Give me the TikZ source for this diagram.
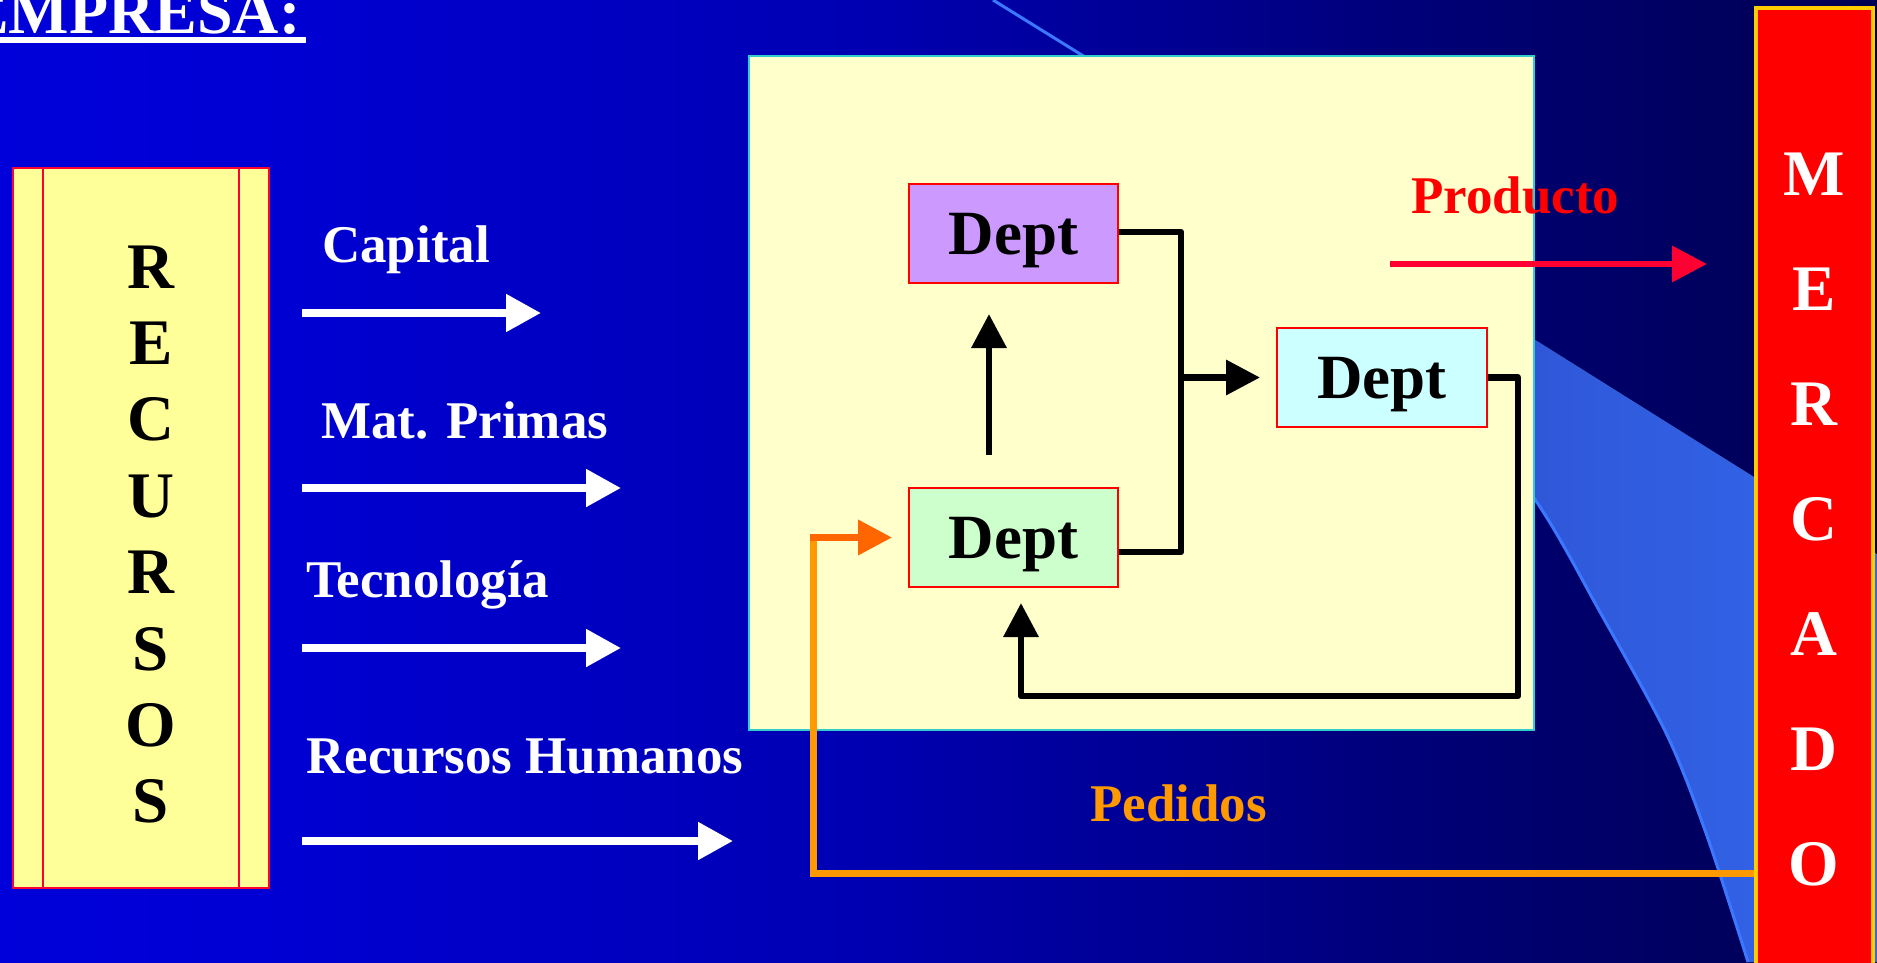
\documentclass[tikz,border=0pt]{standalone}
\usepackage{fontspec}
\setmainfont{Liberation Serif}
\usetikzlibrary{arrows.meta}
\definecolor{bga}{RGB}{0,0,238}
\definecolor{bgb}{RGB}{0,0,212}
\definecolor{bgc}{RGB}{0,0,178}
\definecolor{bgd}{RGB}{0,0,115}
\definecolor{bge}{RGB}{0,0,66}
\definecolor{bgf}{RGB}{0,0,40}
\definecolor{swa}{RGB}{38,66,185}
\definecolor{swb}{RGB}{52,102,236}
\definecolor{swline}{RGB}{60,120,255}
\definecolor{empfill}{RGB}{255,255,204}
\definecolor{empline}{RGB}{51,204,204}
\definecolor{recfill}{RGB}{255,255,153}
\definecolor{recline}{RGB}{255,0,51}
\definecolor{dpurple}{RGB}{204,153,255}
\definecolor{dcyan}{RGB}{204,255,255}
\definecolor{dgreen}{RGB}{204,255,204}
\definecolor{mred}{RGB}{255,0,0}
\definecolor{mgold}{RGB}{255,204,0}
\definecolor{prodred}{RGB}{255,0,51}
\definecolor{pedorange}{RGB}{255,153,0}
\definecolor{arrorange}{RGB}{255,102,0}
\pgfdeclarehorizontalshading{bgshade}{100bp}{color(0bp)=(bga); color(32bp)=(bgb); color(48bp)=(bgc); color(64bp)=(bgd); color(80bp)=(bge); color(100bp)=(bgf)}
\begin{document}
\begin{tikzpicture}[x=1pt,y=-1pt,
  lab/.style={text=white, font=\fontsize{53}{60}\selectfont\bfseries, inner sep=0pt, anchor=base west},
  deptbox/.style={draw=red, line width=2pt, minimum width=209pt, minimum height=99pt, inner sep=0pt,
     font=\fontsize{63}{63}\selectfont\bfseries, text height=42pt, text depth=0pt},
  conn/.style={black, line width=6.5pt, line join=round},
  blktip/.style={-{Triangle[length=34pt,width=34pt]}},
  warr/.style={white, line width=8pt, -{Triangle[length=35pt,width=36pt]}},
]
\useasboundingbox (0,0) rectangle (1877,962);
\clip (0,0) rectangle (1877,962);
\fill[shading=bgshade] (0,0) rectangle (1877,962);

% swoosh
\fill[left color=swa, right color=swb] (993,0) -- (1877,554) -- (1877,962) -- (1748,962)
  -- plot[smooth] coordinates {(1748,962) (1707,836) (1667,735) (1600,612) (1534,498) (1420,350) (1260,190) (1106,70)} -- cycle;
\draw[swline, line width=3pt] plot[smooth] coordinates {(1748,962) (1707,836) (1667,735) (1600,612) (1534,498) (1420,350) (1260,190) (1106,70)} -- (993,0);

% title
\node[text=white, font=\fontsize{64}{70}\selectfont\bfseries, inner sep=0pt, anchor=base west] (title) at (-34,33) {EMPRESA:};
\draw[white, line width=6pt] ([yshift=-7pt]title.base west) -- ([yshift=-7pt,xshift=5pt]title.base east);

% recursos
\node[draw=recline, fill=recfill, line width=2pt, minimum width=256pt, minimum height=720pt, inner sep=0pt] (r) at (141,528) {};
\draw[recline, line width=2pt] ([xshift=31pt]r.north west) -- ([xshift=31pt]r.south west);
\draw[recline, line width=2pt] ([xshift=-31pt]r.north east) -- ([xshift=-31pt]r.south east);
\node[font=\fontsize{65}{76.4}\selectfont\bfseries, align=center, inner sep=0pt] (rl) at (151,534.5) {R\\E\\C\\U\\R\\S\\O\\S};

% input labels and arrows
\node[lab] (capital) at (322,262) {Capital};
\node[lab] (mat) at (321,438) {Mat. Primas};
\node[lab] (tec) at (306,597) {Tecnología};
\node[lab] (rh) at (306,773) {Recursos Humanos};
\coordinate (a1s) at (302,313); \coordinate (a1e) at (541,313);
\coordinate (a2s) at (302,488); \coordinate (a2e) at (621,488);
\coordinate (a3s) at (302,648); \coordinate (a3e) at (621,648);
\coordinate (a4s) at (302,841); \coordinate (a4e) at (733,841);
\draw[warr] (a1s) -- (a1e);
\draw[warr] (a2s) -- (a2e);
\draw[warr] (a3s) -- (a3e);
\draw[warr] (a4s) -- (a4e);

% empresa box
\node[draw=empline, fill=empfill, line width=2pt, minimum width=785pt, minimum height=674pt, inner sep=0pt] (emp) at (1141.5,393) {};

% departments
\node[deptbox, fill=dpurple] (p) at (1013.5,233.5) {Dept};
\node[deptbox, fill=dcyan, minimum width=210pt] (c) at (1382,377.5) {Dept};
\node[deptbox, fill=dgreen] (g) at (1013.5,537.5) {Dept};

% mercado
\node[draw=mgold, fill=mred, line width=4pt, minimum width=117pt, minimum height=984pt, inner sep=0pt] (m) at (1814.5,500) {};
\node[text=white, font=\fontsize{65}{115}\selectfont\bfseries, align=center, inner sep=0pt] (ml) at (1814,520) {M\\E\\R\\C\\A\\D\\O};

% internal connectors
\coordinate (bx) at (1181,377.5);
\draw[conn] ([yshift=1.5pt]p.east) -| (bx) |- ([yshift=-14.5pt]g.east);
\draw[conn, blktip] (bx) -- ([xshift=-16pt]c.west);
\draw[conn, blktip] ([xshift=-24.5pt,yshift=32pt]g.north) -- ([xshift=-24.5pt,yshift=-30pt]p.south);
\coordinate (fb) at (1518,696);
\draw[conn, blktip] (c.east) -| (fb) -| ([xshift=7.5pt,yshift=-15pt]g.south);

% producto
\node[text=mred, font=\fontsize{53}{60}\selectfont\bfseries, inner sep=0pt, anchor=base west] (prod) at (1411,213) {Producto};
\coordinate (pa) at (1390,264);
\draw[prodred, line width=6.5pt, -{Triangle[length=35pt,width=35pt]}] (pa) -- ([xshift=-47pt]m.west |- pa);

% pedidos
\node[text=pedorange, font=\fontsize{53}{60}\selectfont\bfseries, inner sep=0pt, anchor=base west] (ped) at (1090,821) {Pedidos};
\coordinate (oc) at (813.5,873);
\coordinate (ot) at (813.5,537.5);
\draw[pedorange, line width=7pt] (m.west |- oc) -- (oc) -- (ot);
\draw[arrorange, line width=7pt, -{Triangle[length=34pt,width=34pt]}] ([xshift=-3.5pt]ot) -- ([xshift=-16pt]g.west);
\end{tikzpicture}
\end{document}
